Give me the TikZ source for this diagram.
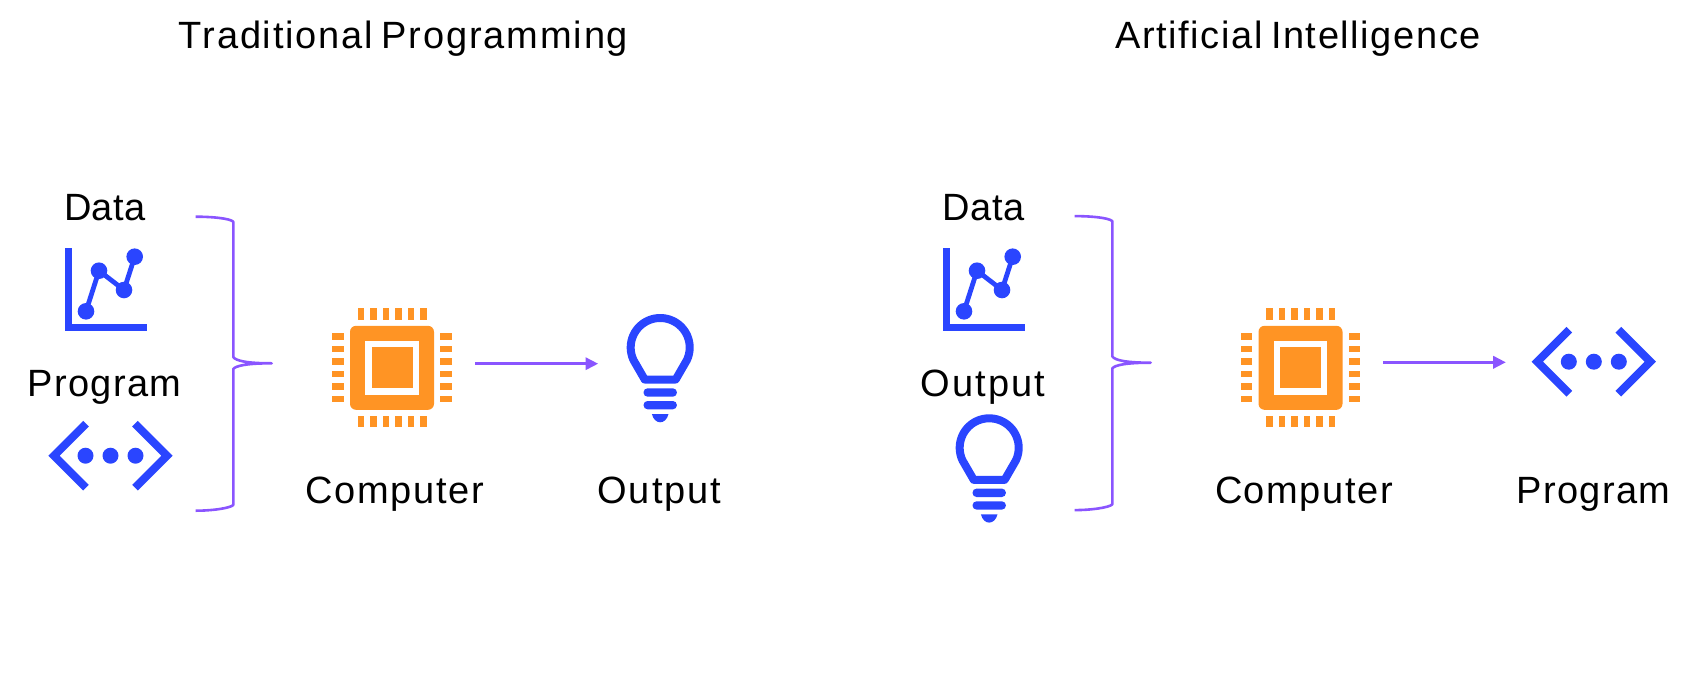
\documentclass[tikz,border=0pt]{standalone}
\usepackage{fontspec}
\setmainfont[LetterSpace=3,WordSpace=0.7]{Liberation Sans}
\usetikzlibrary{arrows.meta}
\newcommand\lsp[1]{\addfontfeatures{LetterSpace=#1}}
\definecolor{iconblue}{HTML}{2A45FF}
\definecolor{chiporange}{HTML}{FF9424}
\definecolor{linkpurple}{HTML}{8A55FF}
\tikzset{
  x=0.5pt,y=-0.5pt,
  lbl/.style={anchor=base,inner sep=0pt,text=black,font=\fontsize{19}{23}\selectfont},
  linkarrow/.style={draw=linkpurple,line width=1.65pt,-{Triangle[length=6.4pt,width=6pt]}},
  bracepath/.style={draw=linkpurple,line width=1.3pt,line join=round},
  chart/.pic={
    \draw[draw=iconblue,line width=3.35pt,line cap=butt,line join=miter] (3.35,0) -- (3.35,79.8) -- (81.7,79.8);
    \draw[draw=iconblue,line width=2.4pt] (21,63.3) -- (34,22.7) -- (59,42) -- (69.7,8.7);
    \foreach \px/\py in {21/63.3,34/22.7,59/42,69.7/8.7}
      \fill[iconblue] (\px,\py) circle[radius=4.15pt];
  },
  codeicon/.pic={
    \draw[draw=iconblue,line width=4pt,line join=miter,miter limit=10] (-24.5,-32) -- (-56.5,0) -- (-24.5,32);
    \draw[draw=iconblue,line width=4pt,line join=miter,miter limit=10] (24.5,-32) -- (56.5,0) -- (24.5,32);
    \foreach \px in {-25,0,25}
      \fill[iconblue] (\px,0) circle[radius=4pt];
  },
  chipicon/.pic={
    \fill[chiporange,rounded corners=3pt] (-42,-42) rectangle (42,42);
    \fill[white] (-26.7,-26.7) rectangle (26.7,26.7);
    \fill[chiporange] (-20.5,-20.5) rectangle (20.5,20.5);
    \foreach \k in {-31.25,-18.75,-6.25,6.25,18.75,31.25}{
      \fill[chiporange] (\k-3.25,-59.5) rectangle (\k+3.25,-48.1);
      \fill[chiporange] (\k-3.25,48.1) rectangle (\k+3.25,59.5);
      \fill[chiporange] (-59.7,\k-3.25) rectangle (-48.3,\k+3.25);
      \fill[chiporange] (48.3,\k-3.25) rectangle (59.7,\k+3.25);
    }
  },
  bulbicon/.pic={
    \draw[draw=iconblue,line width=4pt,line join=round]
      (-15.5,32) -- plot[domain=154:386,samples=70,variable=\t] ({29.5*cos(\t)},{29.5*sin(\t)}) -- (15.5,32) -- cycle;
    \fill[iconblue,rounded corners=2pt] (-16.7,40.8) rectangle (16.7,49.2);
    \fill[iconblue,rounded corners=2pt] (-16.7,53.5) rectangle (16.7,61.8);
    \fill[iconblue] (-8.3,66.5) -- (8.3,66.5) .. controls (7,72) and (3.5,74.8) .. (0,74.8) .. controls (-3.5,74.8) and (-7,72) .. (-8.3,66.5) -- cycle;
  },
  braceicon/.pic={
    \draw[bracepath] (-76,-146.6) .. controls (-60,-146.6) and (-42,-145) .. (-38.4,-141.6)
      -- (-38.4,-6.3) .. controls (-36,-2.5) and (-25,0) .. (0,0)
      .. controls (-25,0) and (-36,2.5) .. (-38.4,5.7)
      -- (-38.4,141.7) .. controls (-42,145) and (-60,147.4) .. (-76,147.4);
  }
}
\begin{document}
\begin{tikzpicture}
\useasboundingbox (0,0) rectangle (1698,680);
% titles
\node[lbl] (titleL) at (403.6,48.3) {\lsp{4.8}Traditional Programming};
\node[lbl] (titleR) at (1298,48.3) {\lsp{4.2}Artificial Intelligence};
% left group
\node[lbl] (dataL) at (105,220) {\lsp{1.5}Data};
\pic (chartL) at (65,248) {chart};
\node[lbl] (progL) at (104.6,396) {\lsp{3.4}Program};
\pic (codeL) at (110.5,455.7) {codeicon};
\pic (braceL) at (271.7,363.3) {braceicon};
\pic (chipL) at (392,367.8) {chipicon};
\node[lbl] (compL) at (395,503.8) {\lsp{4.2}Computer};
\coordinate (arrLa) at (475,363.7);
\coordinate (arrLb) at (598.3,363.7);
\draw[linkarrow] (arrLa) -- (arrLb);
\pic (bulbL) at (660.2,347.5) {bulbicon};
\node[lbl] (outL) at (659.5,503.3) {\lsp{5.3}Output};
% right group
\node[lbl] (dataR) at (983.5,220) {\lsp{1.5}Data};
\pic (chartR) at (943,248) {chart};
\node[lbl] (outR) at (983,396) {\lsp{5.3}Output};
\pic (bulbR) at (989.2,447.8) {bulbicon};
\pic (braceR) at (1150.7,362.7) {braceicon};
\pic (chipR) at (1300.5,367.8) {chipicon};
\node[lbl] (compR) at (1304,503.8) {\lsp{4.2}Computer};
\coordinate (arrRa) at (1383.3,362.3);
\coordinate (arrRb) at (1506,362.3);
\draw[linkarrow] (arrRa) -- (arrRb);
\pic (codeR) at (1593.8,361.7) {codeicon};
\node[lbl] (progR) at (1593.5,503.3) {\lsp{3.4}Program};
\end{tikzpicture}
\end{document}
